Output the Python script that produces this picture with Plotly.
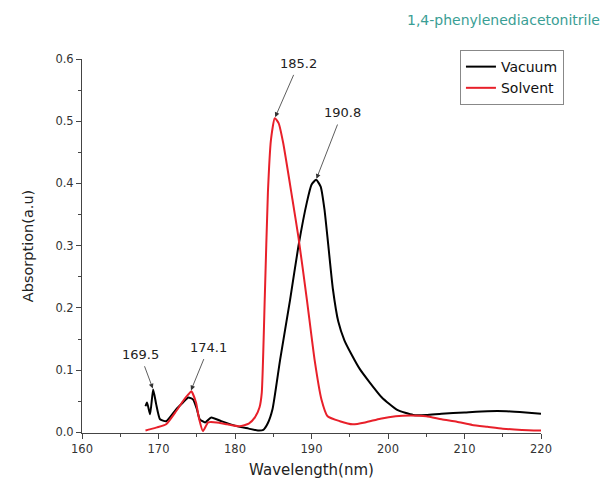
import plotly.graph_objects as go

vac_x = [168.3, 168.5, 168.9, 169.3, 169.7, 170.2, 171.0, 172.3, 173.2, 173.9, 174.5, 175.0, 175.4, 176.1, 176.9, 178.2, 180.2, 181.8, 183.0, 183.7, 184.3, 184.9, 185.9, 187.2, 188.3, 189.4, 190.0, 190.6, 191.2, 191.7, 192.2, 192.8, 193.5, 194.3, 195.2, 196.3, 197.5, 199.2, 201.2, 203.3, 205.0, 207.0, 210.0, 213.0, 215.5, 218.0, 220.0]
vac_y = [0.042, 0.048, 0.029, 0.069, 0.045, 0.021, 0.018, 0.037, 0.048, 0.056, 0.053, 0.038, 0.021, 0.016, 0.024, 0.018, 0.01, 0.006, 0.003, 0.004, 0.015, 0.037, 0.117, 0.213, 0.3, 0.37, 0.398, 0.406, 0.395, 0.358, 0.3, 0.23, 0.178, 0.148, 0.126, 0.102, 0.082, 0.056, 0.036, 0.028, 0.028, 0.03, 0.032, 0.034, 0.034, 0.032, 0.03]

sol_x = [168.3, 168.6, 169.8, 171.0, 172.3, 173.3, 173.9, 174.3, 174.9, 175.3, 175.8, 176.5, 177.6, 179.0, 180.6, 181.8, 182.6, 183.2, 183.5, 183.9, 184.3, 184.7, 185.2, 185.7, 186.3, 187.5, 188.3, 189.4, 190.4, 191.3, 192.1, 193.7, 195.4, 197.0, 199.0, 201.0, 203.0, 205.0, 207.0, 209.0, 211.0, 213.0, 215.0, 217.5, 220.0]
sol_y = [0.003, 0.004, 0.008, 0.013, 0.034, 0.052, 0.061, 0.066, 0.048, 0.022, 0.002, 0.016, 0.016, 0.013, 0.01, 0.014, 0.024, 0.04, 0.064, 0.22, 0.385, 0.47, 0.505, 0.497, 0.465, 0.375, 0.313, 0.213, 0.117, 0.053, 0.026, 0.018, 0.013, 0.016, 0.022, 0.026, 0.027, 0.026, 0.021, 0.017, 0.012, 0.009, 0.006, 0.004, 0.003]

peak_labels = ["169.5", "174.1", "185.2", "190.8"]
peak_x = [169.3, 174.2, 185.2, 190.6]
peak_y = [0.069, 0.066, 0.505, 0.406]
label_ax = [-13, 18, 24, 26]
label_ay = [-35, -44, -55, -67]

FONT = "DejaVu Sans, Arial, Liberation Sans"

fig = go.Figure()
fig.add_trace(go.Scatter(x=vac_x, y=vac_y, mode="lines", name="Vacuum",
                         line=dict(color="black", width=2, shape="spline", smoothing=0.5)))
fig.add_trace(go.Scatter(x=sol_x, y=sol_y, mode="lines", name="Solvent",
                         line=dict(color="#e8202a", width=2, shape="spline", smoothing=0.5)))

for lab, px, py, ax, ay in zip(peak_labels, peak_x, peak_y, label_ax, label_ay):
    fig.add_annotation(x=px, y=py, text=lab, showarrow=True, arrowhead=2, arrowsize=1.2,
                       arrowwidth=0.8, arrowcolor="#333", ax=ax, ay=ay,
                       standoff=1, startstandoff=3,
                       font=dict(size=13, color="#222", family=FONT))

fig.add_annotation(text="1,4-phenylenediacetonitrile", xref="paper", yref="paper",
                   x=1.132, y=1.105, xanchor="right", yanchor="middle", showarrow=False,
                   font=dict(size=14, color="#3a9e94", family=FONT))

axis_font = dict(size=11.5, color="#333", family=FONT)
fig.update_layout(
    width=603, height=478,
    margin=dict(l=74, r=70, t=51, b=53),
    paper_bgcolor="white", plot_bgcolor="white",
    font=dict(family=FONT, color="#222"),
    showlegend=True,
    legend=dict(x=1.05, y=1.024, xanchor="right", yanchor="top",
                bordercolor="#888", borderwidth=1, bgcolor="white",
                font=dict(size=14, color="#111", family=FONT), tracegroupgap=0,
                itemwidth=30),
    xaxis=dict(range=[160, 220], tickvals=[160, 170, 180, 190, 200, 210, 220],
               automargin=False,
               showline=True, linecolor="#444", linewidth=1, ticks="outside",
               ticklen=5, tickcolor="#444", showgrid=False, zeroline=False,
               minor=dict(tickvals=[165, 175, 185, 195, 205, 215], ticks="outside", ticklen=3, tickcolor="#444"),
               tickfont=axis_font,
               title=dict(text="Wavelength(nm)", font=dict(size=15, color="#222"), standoff=9)),
    yaxis=dict(range=[-0.001, 0.6], tickvals=[0, 0.1, 0.2, 0.3, 0.4, 0.5, 0.6],
               ticktext=["0.0", "0.1", "0.2", "0.3", "0.4", "0.5", "0.6"],
               automargin=False,
               showline=True, linecolor="#444", linewidth=1, ticks="outside",
               ticklen=5, tickcolor="#444", showgrid=False, zeroline=False,
               minor=dict(tickvals=[0.05, 0.15, 0.25, 0.35, 0.45, 0.55], ticks="outside", ticklen=3, tickcolor="#444"),
               tickfont=axis_font,
               title=dict(text="Absorption(a.u)", font=dict(size=14.5, color="#222"), standoff=18)),
)

fig.write_html("out.html")
